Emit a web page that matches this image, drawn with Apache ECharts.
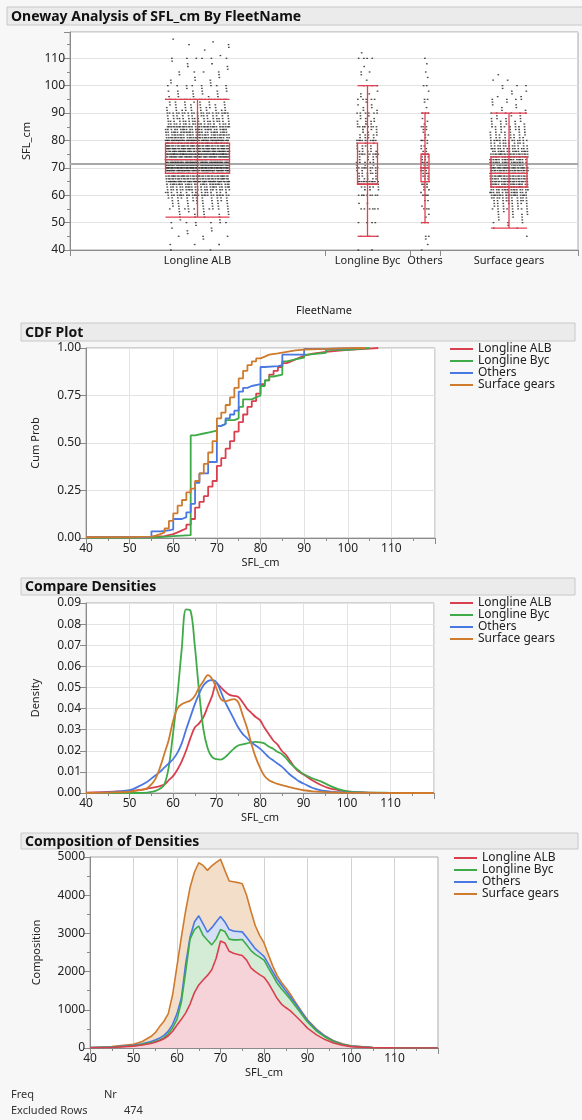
<!DOCTYPE html>
<html>
<head>
<meta charset="utf-8">
<title>Oneway Analysis of SFL_cm By FleetName</title>
<script src="https://cdn.jsdelivr.net/npm/echarts@6/dist/echarts.min.js"></script>
<style>
    html, body { margin: 0; padding: 0; background: #f7f7f7; }
    #chart { width: 582px; height: 1120px; }
</style>
</head>
<body>
<div id="chart"></div>
<script>
var fleets = ['Longline ALB', 'Longline Byc', 'Others', 'Surface gears'];
var fleetColors = ['#d9404f', '#3faa48', '#4a78e2', '#cf7b2e'];
var fleetTints = ['#f5d3d8', '#d4ecd5', '#d5dff6', '#f3dec9'];

/*---- Oneway: jittered points, [SFL_cm, number of points] ----*/
var albDots = [[40,2],[42,3],[44,1],[45,3],[46,1],[47,2],[48,2],[49,1],[50,6],[51,2],[52,4],[53,5],[54,4],
    [55,10],[56,7],[57,8],[58,10],[59,12],[60,25],[61,15],[62,22],[63,24],[64,28],[65,45],[66,35],[67,38],
    [68,45],[69,50],[70,70],[71,52],[72,50],[73,50],[74,48],[75,60],[76,45],[77,42],[78,40],[79,38],[80,50],
    [81,32],[82,30],[83,27],[84,25],[85,32],[86,20],[87,18],[88,16],[89,14],[90,22],[91,10],[92,9],[93,8],
    [94,7],[95,20],[96,5],[97,4],[98,6],[99,3],[100,8],[101,2],[102,3],[103,2],[104,2],[105,4],[106,1],
    [107,2],[108,2],[109,1],[110,6],[111,1],[113,1],[114,1],[115,2],[116,1],[117,1]];
var bycDots = [[40,2],[45,3],[50,4],[55,6],[57,2],[60,8],[62,3],[63,5],[64,14],[65,12],[66,5],[67,4],[68,6],
    [69,4],[70,10],[71,3],[72,5],[73,3],[74,4],[75,10],[76,5],[77,3],[78,4],[79,3],[80,10],[81,4],[82,5],
    [83,3],[84,3],[85,8],[86,3],[87,4],[88,3],[89,2],[90,6],[91,2],[92,2],[93,2],[94,1],[95,5],[96,1],[97,2],
    [98,1],[100,3],[102,1],[104,1],[105,2],[107,1],[110,4],[112,1]];
var othDots = [[40,1],[42,1],[44,1],[45,2],[50,3],[52,1],[53,1],[55,3],[56,1],[58,2],[60,4],[61,1],[62,2],
    [63,2],[64,3],[65,5],[66,2],[67,3],[68,3],[69,3],[70,6],[71,2],[72,3],[73,2],[74,3],[75,5],[76,2],[77,2],
    [78,2],[79,1],[80,4],[81,1],[82,2],[83,1],[84,2],[85,3],[86,1],[87,1],[88,1],[90,3],[92,1],[94,1],[95,2],
    [98,1],[100,2],[103,1],[105,1],[108,1],[110,1]];
var surDots = [[45,1],[48,2],[49,1],[50,3],[51,2],[52,3],[53,4],[54,4],[55,8],[56,6],[57,8],[58,10],[59,12],
    [60,18],[61,15],[62,16],[63,18],[64,18],[65,22],[66,20],[67,22],[68,24],[69,22],[70,28],[71,18],[72,18],
    [73,18],[74,20],[75,22],[76,16],[77,14],[78,12],[79,10],[80,14],[81,8],[82,8],[83,7],[84,6],[85,8],[86,5],
    [87,5],[88,4],[89,3],[90,6],[91,2],[92,2],[93,2],[94,2],[95,4],[96,2],[97,1],[98,2],[99,1],[100,3],
    [102,2],[104,1]];
// [min whisker, q1, median, q3, max whisker]
var boxStats = [[52, 68, 73, 79, 95], [45, 64, 64, 79, 100], [50, 65, 70, 75, 90], [48, 63, 68, 74, 90]];
var grandMean = 71.6;

/*---- CDF steps, [SFL_cm, cum prob] ----*/
var cdfAlb = [[40,0.004],[50,0.006],[55,0.01],[58,0.02],[60,0.03],[61,0.04],[62,0.05],[63,0.07],[64,0.10],
    [65,0.16],[66,0.19],[67,0.22],[68,0.27],[69,0.30],[70,0.38],[71,0.42],[72,0.47],[73,0.51],[74,0.56],
    [75,0.61],[76,0.65],[77,0.69],[78,0.72],[79,0.76],[80,0.81],[81,0.83],[82,0.86],[83,0.88],[84,0.90],
    [85,0.92],[86,0.93],[87,0.94],[88,0.95],[89,0.96],[90,0.97],[92,0.98],[95,0.99],[100,0.997],[105,1],[107,1]];
var cdfByc = [[40,0.002],[55,0.005],[57,0.01],[60,0.015],[64,0.54],[65,0.55],[67,0.555],[68,0.56],[69,0.565],
    [70,0.59],[71,0.60],[72,0.62],[74,0.63],[75,0.69],[76,0.73],[78,0.74],[79,0.75],[80,0.80],[81,0.83],
    [82,0.85],[83,0.86],[85,0.93],[86,0.94],[88,0.95],[90,0.965],[91,0.975],[95,0.99],[100,1],[105,1]];
var cdfOth = [[40,0.005],[55,0.035],[57,0.04],[59,0.045],[60,0.10],[62,0.11],[63,0.135],[64,0.18],[65,0.29],
    [66,0.34],[68,0.40],[70,0.59],[71,0.60],[72,0.63],[73,0.65],[74,0.67],[75,0.77],[76,0.79],[77,0.80],
    [78,0.81],[80,0.90],[81,0.905],[84,0.91],[85,0.965],[90,0.995],[95,1],[104,1]];
var cdfSur = [[40,0.005],[50,0.007],[55,0.012],[56,0.02],[57,0.03],[58,0.05],[59,0.09],[60,0.13],[61,0.17],
    [62,0.20],[63,0.24],[64,0.26],[65,0.30],[66,0.34],[67,0.39],[68,0.45],[69,0.51],[70,0.63],[71,0.66],
    [72,0.70],[73,0.74],[74,0.79],[75,0.84],[76,0.88],[77,0.91],[78,0.93],[79,0.945],[80,0.955],[81,0.965],
    [82,0.972],[84,0.98],[86,0.987],[88,0.992],[90,0.995],[95,0.999],[100,1],[104,1]];

/*---- densities and composition, read at these SFL_cm values ----*/
var xGrid = [40,45,50,52,54, 55,56,57,58,59,60,61,62,63,64, 65,66,67,68,69,70,71,72,73,74,
    75,76,77,78,79,80,81,82,83,84, 85,86,87,88,89,90, 92,94,96,98,100, 105,110,120];
var densAlb = [0.0002,0.0005,0.001,0.0014,0.002,
    0.0024,0.0028,0.0033,0.004,0.006,0.008,0.011,0.015,0.020,0.026,
    0.031,0.033,0.036,0.041,0.046,0.052,0.050,0.048,0.0465,0.046,
    0.0455,0.043,0.040,0.038,0.036,0.0345,0.031,0.028,0.025,0.023,
    0.020,0.018,0.015,0.012,0.010,0.0088, 0.006,0.0038,0.0022,0.0014,0.0008, 0.0002,0,0];
var densByc = [0,0,0,0,0.0002,
    0.0005,0.001,0.002,0.004,0.012,0.028,0.046,0.068,0.087,0.0865,
    0.070,0.048,0.030,0.021,0.017,0.016,0.0158,0.017,0.019,0.021,
    0.0225,0.023,0.0235,0.024,0.0242,0.024,0.0235,0.022,0.021,0.0195,
    0.0185,0.0165,0.014,0.0122,0.0105,0.009, 0.007,0.0055,0.0035,0.0018,0.0008, 0.0002,0.0001,0];
var densOth = [0.0001,0.0003,0.0013,0.003,0.0052,
    0.0068,0.0084,0.010,0.012,0.014,0.016,0.019,0.0235,0.030,0.036,
    0.042,0.047,0.051,0.053,0.0535,0.0525,0.048,0.043,0.039,0.035,
    0.031,0.028,0.026,0.024,0.0225,0.021,0.019,0.017,0.0155,0.014,
    0.0125,0.0105,0.0085,0.007,0.0055,0.0045, 0.0025,0.0013,0.0007,0.0004,0.0002, 0.0001,0.00005,0];
var densSur = [0,0.0002,0.0006,0.0012,0.0022,
    0.004,0.0068,0.012,0.0185,0.025,0.034,0.040,0.042,0.043,0.0438,
    0.046,0.050,0.053,0.0558,0.054,0.0495,0.0445,0.0435,0.044,0.0445,
    0.043,0.037,0.031,0.0235,0.017,0.012,0.0082,0.0062,0.0051,0.0043,
    0.0037,0.0032,0.0027,0.0022,0.0017,0.0013, 0.0008,0.0005,0.0003,0.0002,0.0001, 0.00005,0,0];

// composition: running totals read at the top edge of each band
var compAlb = [5,15,50,80,120,
    150,190,240,320,440,600,750,920,1150,1450,
    1650,1780,1900,2050,2350,2800,2750,2530,2480,2450,
    2420,2300,2100,2000,1920,1850,1700,1500,1300,1150,
    1060,980,870,760,640,520, 350,220,130,70,35, 8,2,0];
var compByc = [8,20,60,95,140,
    170,210,270,370,530,750,1200,2000,2850,3100,
    3190,2950,2820,2700,2850,3100,3050,2850,2830,2830,
    2840,2700,2550,2450,2380,2300,2100,1900,1700,1550,
    1420,1280,1130,980,830,680, 450,290,170,90,45, 10,3,0];
var compOth = [10,25,70,110,170,
    210,260,330,440,620,900,1300,2200,2900,3300,
    3460,3250,3030,3150,3300,3440,3300,3100,3060,3050,
    3040,2900,2750,2600,2500,2400,2200,2000,1800,1650,
    1500,1350,1200,1040,880,720, 480,310,180,100,50, 12,4,0];
var compSur = [15,35,100,170,300,
    400,560,700,900,1400,2150,2900,3600,4200,4600,
    4850,4780,4650,4770,4860,4940,4650,4370,4350,4330,
    4300,4000,3580,3200,2950,2750,2450,2150,1900,1720,
    1580,1420,1240,1070,900,740, 500,320,190,110,55, 15,4,0];

/*---- layout ----*/
var groupWidths = [255, 85, 30, 138];
var jitterHalf = [32, 11, 4, 19];
var boxHalf = [32, 10, 4, 18];
var boxColor = '#e23f50';
var labelColor = '#222';
var tickColor = '#8a8a8a';
var gridLineColor = '#e3e3e3';

var bounds = [0], centers = [];
groupWidths.forEach(function (w, i) {
    centers.push(bounds[i] + w / 2);
    bounds.push(bounds[i] + w);
});
var totalWidth = bounds[bounds.length - 1];

function dotSeries(dots, g) {
    var data = [];
    dots.forEach(function (d) {
        for (var k = 0; k < d[1]; k++) {
            var f = (k * 0.618034 + d[0] * 0.3771) % 1;
            data.push([centers[g] + jitterHalf[g] * (2 * f - 1), d[0]]);
        }
    });
    return {
        name: 'points ' + fleets[g], type: 'scatter', xAxisIndex: 0, yAxisIndex: 0,
        symbol: 'rect', symbolSize: [1.7, 1.3], silent: true, z: 2,
        itemStyle: {color: '#1c1c1c'}, data: data
    };
}

function renderBox(params, api) {
    var c = api.value(0), hw = api.value(1);
    var xl = api.coord([c - hw, 0])[0], xr = api.coord([c + hw, 0])[0], xc = api.coord([c, 0])[0];
    var y = function (v) { return api.coord([c, v])[1]; };
    var st = {stroke: boxColor, lineWidth: 1.3, fill: 'none'};
    var yMin = y(api.value(2)), yQ1 = y(api.value(3)), yMed = y(api.value(4)), yQ3 = y(api.value(5)), yMax = y(api.value(6));
    return {
        type: 'group',
        children: [
            {type: 'line', shape: {x1: xc, y1: yMin, x2: xc, y2: yMax}, style: st},
            {type: 'rect', shape: {x: xl, y: yQ3, width: xr - xl, height: yQ1 - yQ3}, style: st},
            {type: 'line', shape: {x1: xl, y1: yMed, x2: xr, y2: yMed}, style: st},
            {type: 'line', shape: {x1: xl, y1: yMin, x2: xr, y2: yMin}, style: st},
            {type: 'line', shape: {x1: xl, y1: yMax, x2: xr, y2: yMax}, style: st}
        ]
    };
}

function sflAxis(gridIndex, splitColor) {
    return {
        gridIndex: gridIndex, type: 'value', min: 40, max: 120, interval: 10,
        name: 'SFL_cm', nameLocation: 'middle', nameGap: 19,
        nameTextStyle: {fontSize: 11, color: labelColor},
        axisLine: {show: true, lineStyle: {color: tickColor}},
        axisTick: {show: true, length: 6, lineStyle: {color: tickColor}},
        minorTick: {show: true, splitNumber: 2, length: 3, lineStyle: {color: tickColor}},
        axisLabel: {fontSize: 12, color: labelColor, margin: 5, showMaxLabel: false},
        splitLine: {show: true, lineStyle: {color: splitColor}}
    };
}

function leftAxis(gridIndex, opts) {
    var ax = {
        gridIndex: gridIndex, type: 'value',
        nameLocation: 'middle', nameTextStyle: {fontSize: 11, color: labelColor},
        axisLine: {show: true, lineStyle: {color: tickColor}},
        axisTick: {show: true, length: 6, lineStyle: {color: tickColor}},
        axisLabel: {fontSize: 12, color: labelColor, margin: 5},
        splitLine: {show: true, lineStyle: {color: gridLineColor}}
    };
    for (var k in opts) { ax[k] = opts[k]; }
    return ax;
}

function legendAt(left, top) {
    return {
        left: left, top: top, orient: 'vertical', data: fleets, icon: 'rect',
        itemWidth: 23, itemHeight: 2, itemGap: 0, padding: 0, selectedMode: false,
        textStyle: {fontSize: 12, lineHeight: 12, color: labelColor}
    };
}

function titleBar(x, y, w, h, text) {
    return [
        {type: 'rect', shape: {x: x, y: y, width: w, height: h}, style: {fill: '#ebebeb', stroke: '#c8c8c8', lineWidth: 1}},
        {type: 'text', style: {text: text, x: x + 4, y: y + h / 2 + 1, verticalAlign: 'middle',
            font: 'bold 14px "Noto Sans"', fill: '#111'}}
    ];
}

function plainText(x, y, text) {
    return {type: 'text', style: {text: text, x: x, y: y, verticalAlign: 'middle', font: '11px "Noto Sans"', fill: '#333'}};
}

var series = [];
[albDots, bycDots, othDots, surDots].forEach(function (d, g) { series.push(dotSeries(d, g)); });
series.push({
    name: 'boxes', type: 'custom', xAxisIndex: 0, yAxisIndex: 0, silent: true, z: 5,
    renderItem: renderBox,
    data: boxStats.map(function (b, g) { return [centers[g], boxHalf[g]].concat(b); }),
    markLine: {
        silent: true, symbol: 'none', label: {show: false},
        lineStyle: {color: '#a8a8a8', width: 2, type: 'solid'},
        data: [{yAxis: grandMean}]
    }
});

[cdfAlb, cdfByc, cdfOth, cdfSur].forEach(function (d, g) {
    series.push({
        name: fleets[g], type: 'line', xAxisIndex: 1, yAxisIndex: 1, step: 'end',
        showSymbol: false, color: fleetColors[g], lineStyle: {width: 1.8}, data: d
    });
});

[densAlb, densByc, densOth, densSur].forEach(function (d, g) {
    series.push({
        name: fleets[g], type: 'line', xAxisIndex: 2, yAxisIndex: 2, smooth: 0.35,
        showSymbol: false, color: fleetColors[g], lineStyle: {width: 1.8},
        data: xGrid.map(function (x, i) { return [x, d[i]]; })
    });
});

// bands: each running total filled down to zero, outermost first so inner bands sit on top
var tops = [compAlb, compByc, compOth, compSur];
[3, 2, 1, 0].forEach(function (g) {
    series.push({
        name: fleets[g], type: 'line', xAxisIndex: 3, yAxisIndex: 3,
        showSymbol: false, color: fleetColors[g], lineStyle: {width: 1.6},
        areaStyle: {color: fleetTints[g], opacity: 1},
        data: xGrid.map(function (x, i) { return [x, tops[g][i]]; })
    });
});

var myChart = echarts.init(document.getElementById('chart'), null, {renderer: 'canvas'});
myChart.setOption({
    animation: false,
    backgroundColor: '#f7f7f7',
    textStyle: {fontFamily: 'Noto Sans'},
    grid: [
        {left: 70, top: 32, width: 508, height: 218, show: true, backgroundColor: '#fff', borderColor: '#a8a8a8'},
        {left: 86, top: 348, width: 349, height: 190, show: true, backgroundColor: '#fff', borderColor: '#a8a8a8'},
        {left: 86, top: 603, width: 348, height: 190, show: true, backgroundColor: '#fff', borderColor: '#a8a8a8'},
        {left: 90, top: 857, width: 348, height: 191, show: true, backgroundColor: '#fff', borderColor: '#a8a8a8'}
    ],
    xAxis: [
        {
            gridIndex: 0, type: 'value', min: 0, max: totalWidth,
            name: 'FleetName', nameLocation: 'middle', nameGap: 55,
            nameTextStyle: {fontSize: 11, color: labelColor},
            axisLine: {show: true, lineStyle: {color: tickColor}},
            axisTick: {show: true, length: 6, customValues: bounds, lineStyle: {color: tickColor}},
            axisLabel: {
                fontSize: 11, color: labelColor, margin: 5, customValues: centers,
                formatter: function (v) {
                    for (var i = 0; i < centers.length; i++) {
                        if (Math.abs(centers[i] - v) < 0.5) return fleets[i];
                    }
                    return '';
                }
            },
            splitLine: {show: false}
        },
        sflAxis(1, gridLineColor),
        sflAxis(2, gridLineColor),
        sflAxis(3, '#d2d2d2')
    ],
    yAxis: [
        leftAxis(0, {
            min: 40, max: 119.6, interval: 10, name: 'SFL_cm', nameGap: 38,
            minorTick: {show: true, splitNumber: 2, length: 3, lineStyle: {color: tickColor}},
            axisLabel: {fontSize: 12, color: labelColor, margin: 5, showMaxLabel: false}
        }),
        leftAxis(1, {
            min: 0, max: 1, interval: 0.25, name: 'Cum Prob', nameGap: 45,
            axisLabel: {fontSize: 12, color: labelColor, margin: 5, formatter: function (v) { return v.toFixed(2); }}
        }),
        leftAxis(2, {
            min: 0, max: 0.09, interval: 0.01, name: 'Density', nameGap: 45,
            axisLabel: {fontSize: 12, color: labelColor, margin: 5, formatter: function (v) { return v.toFixed(2); }}
        }),
        leftAxis(3, {
            min: 0, max: 5000, interval: 1000, name: 'Composition', nameGap: 48,
            minorTick: {show: true, splitNumber: 2, length: 3, lineStyle: {color: tickColor}},
            axisLabel: {fontSize: 12, color: labelColor, margin: 5, formatter: function (v) { return String(v); }},
            splitLine: {show: false}
        })
    ],
    legend: [legendAt(450, 343), legendAt(450, 597), legendAt(454, 852)],
    graphic: [].concat(
        titleBar(7, 7, 580, 18, 'Oneway Analysis of SFL_cm By FleetName'),
        titleBar(21, 323, 554, 18, 'CDF Plot'),
        titleBar(21, 578, 554, 17, 'Compare Densities'),
        titleBar(21, 833, 557, 16, 'Composition of Densities'),
        [plainText(11, 1095, 'Freq'), plainText(104, 1095, 'Nr'),
         plainText(11, 1111, 'Excluded Rows'), plainText(124, 1111, '474')]
    ),
    series: series
});

window.onresize = function () {
    myChart.resize();
};
</script>
</body>
</html>
